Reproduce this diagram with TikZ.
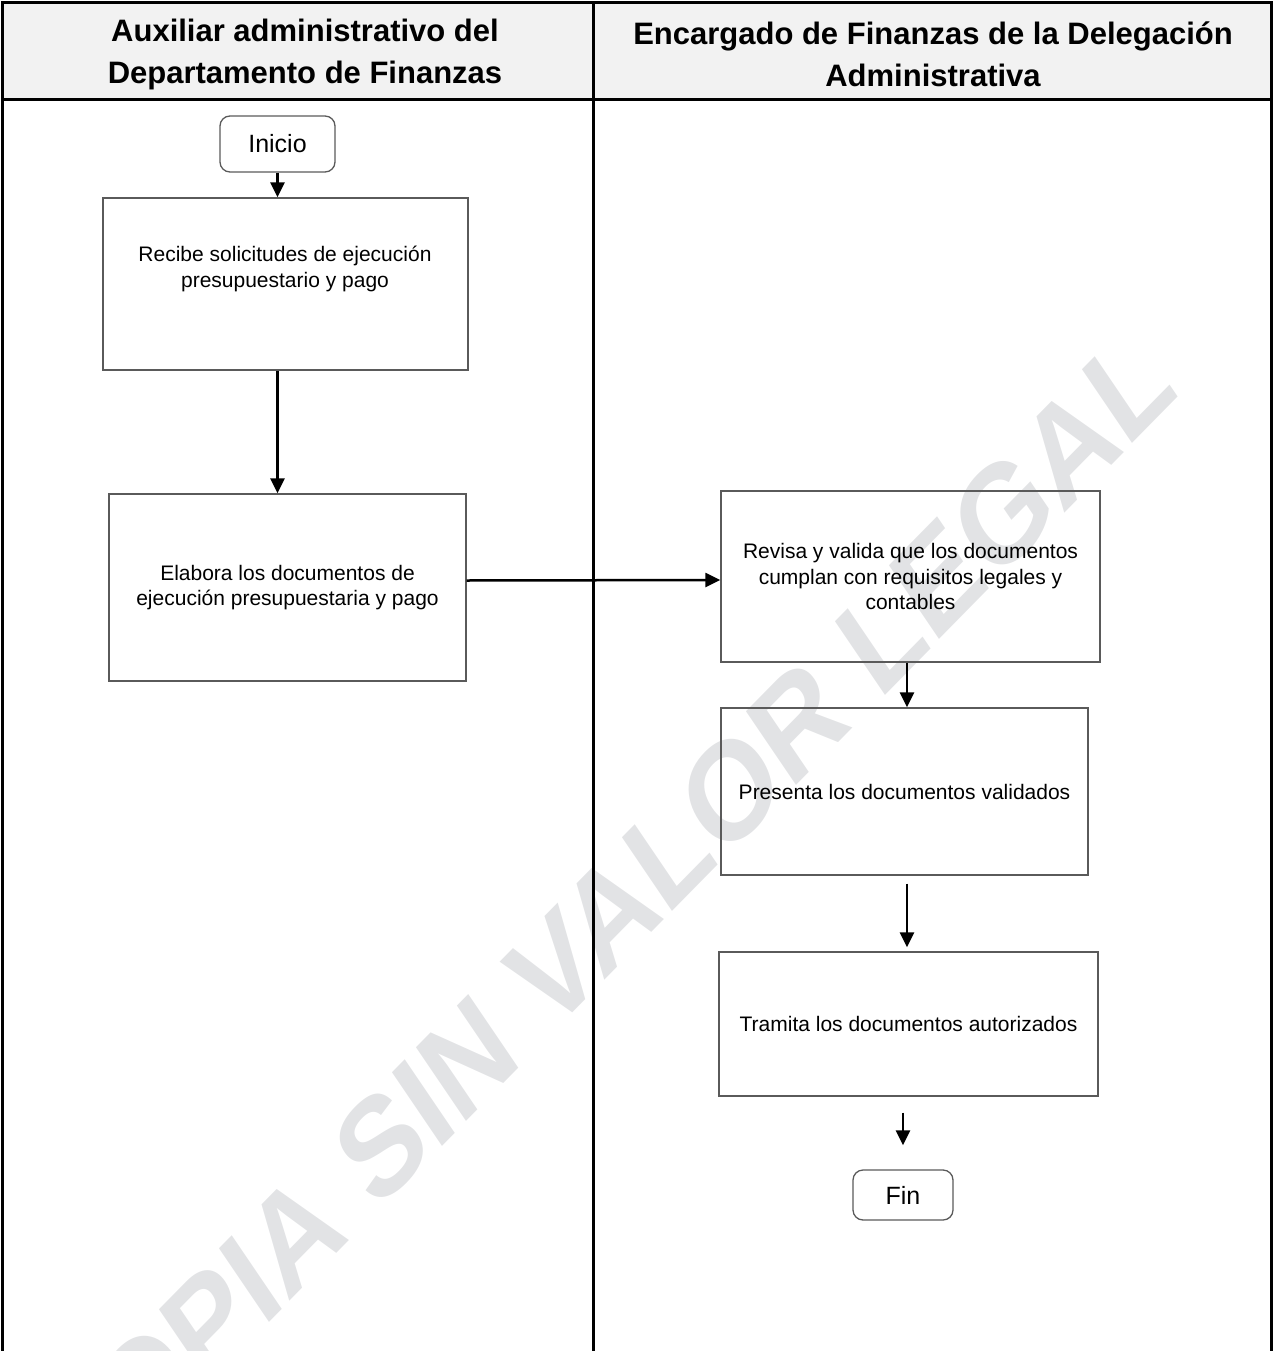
\documentclass[tikz,border=0pt]{standalone}
\usepackage{fontspec}
\setmainfont{Liberation Sans}
\newfontfamily\wmfont{Liberation Sans}[FakeSlant=0.2]
\usetikzlibrary{arrows.meta,calc}
\definecolor{wm}{RGB}{226,227,229}
\definecolor{hdr}{RGB}{242,242,242}
\definecolor{boxline}{RGB}{90,90,90}
\begin{document}
\begin{tikzpicture}[x=1pt,y=-1pt,
  proc/.style={draw=boxline, line width=1.3pt, align=center, inner sep=0pt,
    font=\fontsize{21}{25.5}\selectfont},
  term/.style={draw=boxline, line width=1.3pt, rounded corners=10pt, inner sep=0pt,
    font=\fontsize{25}{30}\selectfont},
  flow/.style={line width=2.5pt, -{Triangle[width=14pt,length=15pt]}},
  lane/.style={line width=3pt},
  head/.style={font=\fontsize{31}{42}\selectfont\bfseries, align=center, inner sep=0pt}]

\useasboundingbox (0,0) rectangle (1274,1351);
\clip (0,0) rectangle (1274,1351);

% watermark
\node[rotate=45.5, anchor=base west, inner sep=0pt, text=wm,
  font=\wmfont\fontsize{127}{127}\selectfont\bfseries] (wmark) at (70,1525) {COPIA SIN VALOR LEGAL};

% swimlane frame
\fill[hdr] (2,2) rectangle (1272,100);
\draw[lane] (2.5,1351) -- (2.5,2.5) -- (1271.5,2.5) -- (1271.5,1351);
\draw[lane] (2,100) -- (1272,100);
\draw[lane] (593,2) -- (593,1351);

\node[head] (h1) at (305,54) {Auxiliar administrativo del\\Departamento de Finanzas};
\node[head] (h2) at (933,54) {Encargado de Finanzas de la Delegación\\Administrativa};

% nodes
\node[term, minimum width=115pt, minimum height=56pt] (ini) at (277.5,144) {Inicio};
\node[proc, minimum width=365pt, minimum height=172pt] (b1) at (285.5,284) {};
\node[align=center, inner sep=0pt, font=\fontsize{21}{25.5}\selectfont] (b1t) at (285,269)
  {Recibe solicitudes de ejecución\\presupuestario y pago};
\node[proc, minimum width=357pt, minimum height=187pt] (b2) at (287.5,587.5)
  {Elabora los documentos de\\ejecución presupuestaria y pago};
\node[proc, minimum width=379pt, minimum height=171pt] (b3) at (910.5,576.5)
  {Revisa y valida que los documentos\\cumplan con requisitos legales y\\contables};
\node[proc, minimum width=367pt, minimum height=167pt] (b4) at (904.5,791.5)
  {Presenta los documentos validados};
\node[proc, minimum width=379pt, minimum height=144pt] (b5) at (908.5,1024)
  {Tramita los documentos autorizados};
\node[term, minimum width=100pt, minimum height=50pt] (fin) at (903,1195) {Fin};

% connectors
\draw[flow] (ini.south) -- (ini.south |- b1.north);
\draw[flow] (ini.south |- b1.south) -- (ini.south |- b2.north);
\draw[flow] ($(b2.east)+(0,-7)$) -- ($(b3.west)+(0,3.5)$);
\draw[flow] ($(b3.south)+(-3.5,0)$) -- ($(b3.south |- b4.north)+(-3.5,0)$);
\draw[flow, shorten <=8pt, shorten >=4pt] ($(b4.south)+(2.5,0)$) -- ($(b4.south |- b5.north)+(2.5,0)$);
\draw[flow, shorten <=16pt, shorten >=24pt] (b5.south -| fin.north) -- (fin.north);
\end{tikzpicture}
\end{document}
